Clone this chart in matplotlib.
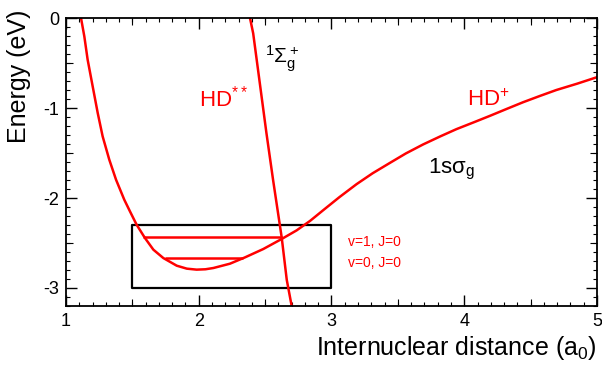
import numpy as np
import matplotlib.pyplot as plt

plt.rcParams['font.family'] = ['Liberation Sans', 'DejaVu Sans']
plt.rcParams['mathtext.fontset'] = 'custom'
plt.rcParams['mathtext.rm'] = 'Liberation Sans'
plt.rcParams['mathtext.it'] = 'Liberation Sans'
plt.rcParams['mathtext.bf'] = 'Liberation Sans:bold'

# HD+ 1s sigma_g potential curve
r_ion = [1.113, 1.138, 1.163, 1.201, 1.239, 1.276, 1.326, 1.377, 1.439, 1.482, 1.532,
         1.595, 1.658, 1.733, 1.834, 1.91, 1.984, 2.05, 2.11, 2.235, 2.348, 2.486, 2.624,
         2.737, 2.838, 2.938, 3.06, 3.189, 3.31, 3.44, 3.56, 3.69, 3.82, 3.941, 4.07,
         4.192, 4.32, 4.443, 4.57, 4.694, 4.85, 4.995]
e_ion = [0.0, -0.204, -0.463, -0.76, -1.056, -1.315, -1.574, -1.797, -2.019, -2.149, -2.297,
         -2.445, -2.574, -2.667, -2.752, -2.785, -2.796, -2.792, -2.778, -2.73, -2.66, -2.567, -2.456,
         -2.36, -2.255, -2.135, -1.99, -1.846, -1.725, -1.61, -1.505, -1.405, -1.315, -1.235, -1.16,
         -1.088, -1.01, -0.936, -0.866, -0.80, -0.73, -0.66]

# HD** doubly excited state 1Sigma_g+
r_dex = [2.386, 2.41, 2.51, 2.56, 2.625, 2.663, 2.70]
e_dex = [0.0, -0.17, -1.28, -1.80, -2.44, -2.91, -3.2]

# vibrational levels
lev_names = ['v=0, J=0', 'v=1, J=0']
lev_e = [-2.667, -2.43]
lev_rmin = [1.746, 1.58]
lev_rmax = [2.336, 2.625]

# zoom box
box_r = [1.5, 3.0]
box_e = [-3.0, -2.3]

fig = plt.figure(figsize=(6.02, 3.65), dpi=100)
ax = fig.add_axes([66 / 602, 1 - 306 / 365, 531 / 602, 288 / 365])

red = '#ff0000'
ax.plot(r_ion, e_ion, color=red, lw=1.8)
ax.plot(r_dex, e_dex, color=red, lw=1.8)
ax.hlines(lev_e, lev_rmin, lev_rmax, color=red, lw=1.8)
ax.add_patch(plt.Rectangle((box_r[0], box_e[0]), box_r[1] - box_r[0], box_e[1] - box_e[0],
                           fill=False, ec='black', lw=1.6, joinstyle='round'))

ax.set_xlim(1, 5)
ax.set_ylim(-3.2, 0)
ax.set_xticks([1, 2, 3, 4, 5])
ax.set_yticks([0, -1, -2, -3])
ax.set_xticklabels(['1', '2', '3', '4', '5'])
ax.set_yticklabels(['0', '-1', '-2', '-3'])
ax.set_xticks(np.arange(1, 5.01, 0.1), minor=True)
ax.set_yticks(np.arange(-3.2, 0.01, 0.1), minor=True)
ax.tick_params(which='major', direction='in', length=8, width=1, top=True, right=True,
               labelsize=13, pad=5)
ax.tick_params(which='minor', direction='in', length=3, width=0.8, top=True, right=True)
for s in ax.spines.values():
    s.set_linewidth(1.3)

# medium ticks at the half units (ROOT style)
for loc in ['bottom', 'top']:
    sa = ax.secondary_xaxis(loc)
    sa.set_xticks([1.5, 2.5, 3.5, 4.5])
    sa.set_xticklabels([])
    sa.tick_params(direction='in', length=5, width=0.8)
    sa.spines[loc].set_visible(False)
for loc in ['left', 'right']:
    sa = ax.secondary_yaxis(loc)
    sa.set_yticks([-0.5, -1.5, -2.5])
    sa.set_yticklabels([])
    sa.tick_params(direction='in', length=5, width=0.8)
    sa.spines[loc].set_visible(False)

ax.text(2.0, -0.985, r'$\mathregular{HD^{**}}$', color=red, fontsize=16, ha='left', va='baseline')
ax.text(4.018, -0.975, r'$\mathregular{HD^{+}}$', color=red, fontsize=16, ha='left', va='baseline')
ax.text(2.5, -0.5, r'$\mathregular{^1\Sigma_g^+}$', color='black', fontsize=15, ha='left', va='baseline')
ax.text(3.725, -1.73, r'$\mathregular{1s\sigma_g}$', color='black', fontsize=16, ha='left', va='baseline')
for name, e in zip(lev_names, [-2.72, -2.49]):
    ax.text(3.124, e, name, color=red, fontsize=10, ha='left', va='center')

fig.text(597 / 602, 1 - 355 / 365, r'Internuclear distance (a$_\mathregular{0}$)', fontsize=18,
         ha='right', va='baseline')
fig.text(19 / 602, 1 - 10 / 365, 'Energy (eV)', fontsize=18, rotation=90, ha='center', va='top')

fig.savefig('out.png', dpi=100)
